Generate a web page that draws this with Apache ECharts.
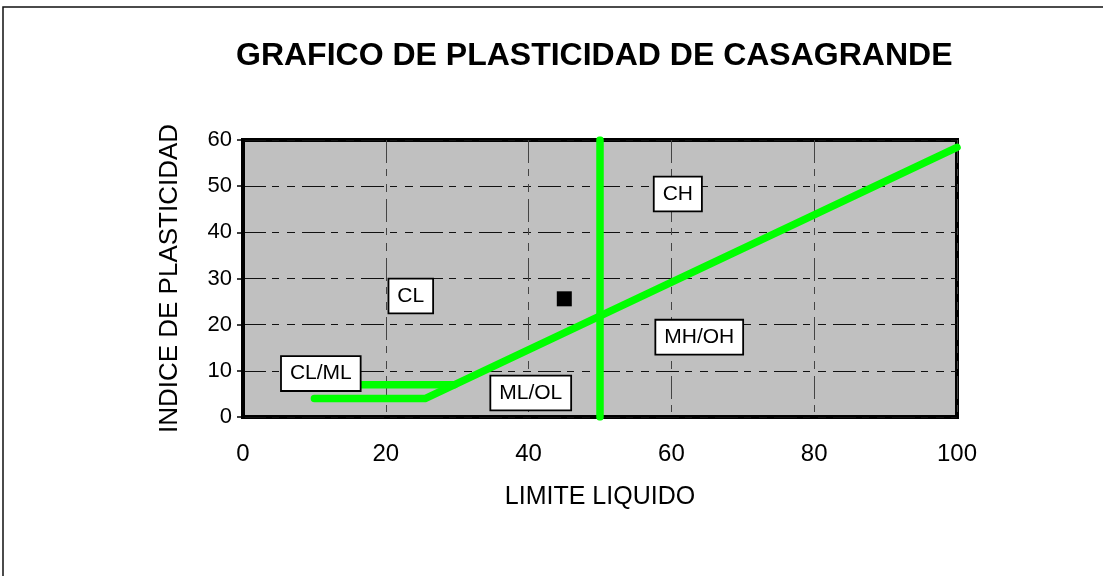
<!DOCTYPE html>
<html><head><meta charset="utf-8">
<script src="https://cdn.jsdelivr.net/npm/echarts@6/dist/echarts.min.js"></script>
<style>html,body{margin:0;padding:0;background:#fff}#c{width:1103px;height:576px}</style>
</head><body><div id="c"></div>
<script>
const chartTitle = 'GRAFICO DE PLASTICIDAD DE CASAGRANDE';
const xName = 'LIMITE LIQUIDO';
const yName = 'INDICE DE PLASTICIDAD';
const xTicks = [0, 20, 40, 60, 80, 100];
const yTicks = [0, 10, 20, 30, 40, 50, 60];
// A-line with lower limit
const aLine = [[10, 4], [25.5, 4], [100, 58.4]];
// upper CL-ML limit
const upperLimit = [[10, 7], [29.6, 7]];
// LL = 50 boundary
const llLine = [[50, 0], [50, 60]];
// sample point
const sample = [[45, 25.6]];
// zone labels
const zoneNames = ['CL/ML', 'CL', 'ML/OL', 'CH', 'MH/OH'];
const zoneX = [10.9, 23.5, 40.3, 60.9, 63.9];
const zoneY = [9.4, 26.2, 5.2, 48.3, 17.3];

const FONT = "'Liberation Sans', Arial, sans-serif";
const dash = [23, 6, 7, 8, 8, 7];
const green = '#00ff00';
const chart = echarts.init(document.getElementById('c'), null, {renderer: 'canvas'});
const lineSeries = (data) => ({
  type: 'line', data: data, symbol: 'none', z: 3,
  lineStyle: {color: green, width: 7.5, cap: 'round', join: 'round', opacity: 1},
  silent: true, animation: false
});
chart.setOption({
  backgroundColor: '#ffffff',
  animation: false,
  title: {
    text: chartTitle, left: 236, top: 40, padding: 0,
    textStyle: {fontFamily: FONT, fontWeight: 'bold', fontSize: 32, color: '#000'}
  },
  graphic: [{
    type: 'rect', shape: {x: 3, y: 7, width: 1200, height: 700},
    style: {fill: 'none', stroke: '#111', lineWidth: 1.5}, silent: true, z: 100
  }],
  grid: {
    left: 243, top: 140, right: 1103 - 957, bottom: 576 - 417,
    show: true, backgroundColor: '#c0c0c0', borderColor: '#000', borderWidth: 4
  },
  xAxis: {
    type: 'value', min: xTicks[0], max: xTicks[xTicks.length - 1], interval: xTicks[1] - xTicks[0],
    name: xName, nameLocation: 'middle', nameGap: 68,
    nameTextStyle: {fontFamily: FONT, fontSize: 25, color: '#000'},
    axisLine: {show: false}, axisTick: {show: false},
    axisLabel: {fontFamily: FONT, fontSize: 24, color: '#000', margin: 25},
    splitLine: {show: true, lineStyle: {color: '#444', width: 1, type: dash}}
  },
  yAxis: {
    type: 'value', min: yTicks[0], max: yTicks[yTicks.length - 1], interval: yTicks[1] - yTicks[0],
    name: yName, nameLocation: 'middle', nameGap: 60,
    nameTextStyle: {fontFamily: FONT, fontSize: 26, color: '#000'},
    axisLine: {show: true, lineStyle: {color: '#000', width: 4}},
    axisTick: {show: true, inside: false, length: 6, lineStyle: {color: '#000', width: 1.5}},
    axisLabel: {fontFamily: FONT, fontSize: 22, color: '#000', margin: 11},
    splitLine: {show: true, lineStyle: {color: '#111', width: 1, type: dash}}
  },
  series: [
    lineSeries(aLine),
    lineSeries(upperLimit),
    lineSeries(llLine),
    {
      type: 'scatter', data: sample, symbol: 'rect', symbolSize: 15, z: 4,
      itemStyle: {color: '#000', opacity: 1}, silent: true
    },
    {
      type: 'scatter', z: 10, symbolSize: 1, itemStyle: {color: 'transparent', opacity: 1}, silent: true,
      data: zoneNames.map((n, i) => [zoneX[i], zoneY[i], n]),
      label: {
        show: true, position: 'inside', formatter: (p) => p.data[2],
        fontFamily: FONT, fontSize: 21, lineHeight: 22, color: '#000', opacity: 1,
        backgroundColor: '#fff', borderColor: '#000', borderWidth: 1.8, padding: [6, 8, 5, 8]
      }
    }
  ]
});
</script></body></html>
